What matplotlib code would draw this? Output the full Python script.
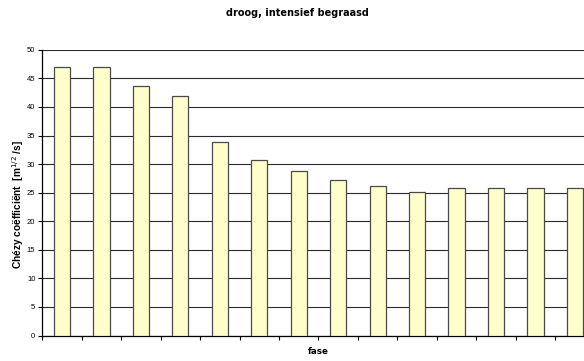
import matplotlib
matplotlib.use("Agg")
import matplotlib.pyplot as plt
import numpy as np

# Chézy coefficient per phase
phases = list(range(1, 15))
chezy = [47.0, 47.0, 43.7, 42.0, 33.9, 30.7, 28.8, 27.2, 26.1, 25.2, 25.8, 25.8, 25.8, 25.8]
y_ticks = [0, 5, 10, 15, 20, 25, 30, 35, 40, 45, 50]

W, H = 584, 361
fig = plt.figure(figsize=(W / 100, H / 100), dpi=100)
left, right, bottom, top = 42.3, 594.6, 335.5, 49.8
ax = fig.add_axes([left / W, (H - bottom) / H, (right - left) / W, (bottom - top) / H])

x = np.arange(len(phases))
ax.bar(x, chezy, width=0.41, color="#FFFFCC", edgecolor="#4a4a4a", linewidth=0.9, zorder=3)

ax.set_xlim(-0.5, len(phases) - 0.5)
ax.set_ylim(0, 50)
ax.set_yticks(y_ticks)
ax.set_yticklabels([str(v) for v in y_ticks], fontsize=5.5, family="Liberation Sans")
ax.set_xticks(np.arange(len(phases) + 1) - 0.5)
ax.set_xticklabels([])
ax.tick_params(axis="y", direction="out", length=3, width=0.8, pad=2, colors="black")
ax.tick_params(axis="x", direction="out", length=3, width=0.8, colors="black")

ax.grid(axis="y", color="#2a2a2a", linewidth=0.8, zorder=1)
ax.set_axisbelow(True)
for s in ["top", "right"]:
    ax.spines[s].set_visible(False)
ax.spines["left"].set_linewidth(0.9)
ax.spines["bottom"].set_linewidth(0.9)

fig.text(297.5 / W, 1 - 13 / H, "droog, intensief begraasd", ha="center", va="center",
         fontsize=7, fontweight="bold", family="DejaVu Sans")
fig.text(318 / W, 1 - 351 / H, "fase", ha="center", va="center",
         fontsize=6.3, fontweight="bold", family="DejaVu Sans")
fig.text(18 / W, 1 - 205 / H, r"Chézy coëfficiënt  [m$^{1/2}$ /s]", ha="center", va="center",
         rotation=90, fontsize=7.3, fontweight="bold", family="Liberation Sans")

fig.savefig("out.png", dpi=100, facecolor="white")
